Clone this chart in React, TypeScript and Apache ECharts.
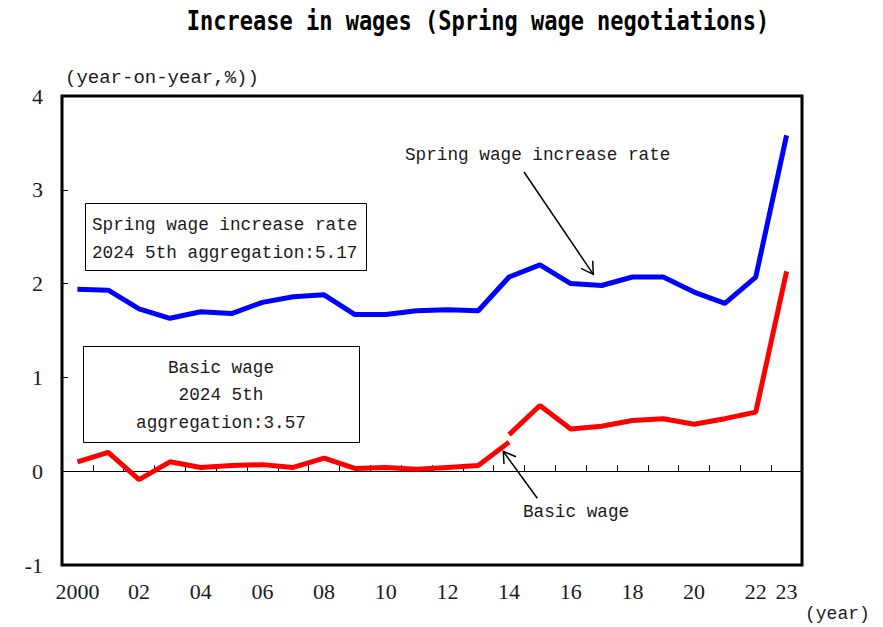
import React, { useEffect, useRef } from "react";
import * as echarts from "echarts";

const years = [
  "2000", "2001", "2002", "2003", "2004", "2005", "2006", "2007", "2008", "2009", "2010", "2011",
  "2012", "2013", "2014", "2015", "2016", "2017", "2018", "2019", "2020", "2021", "2022", "2023",
];
const xTickLabels = [
  "2000", "", "02", "", "04", "", "06", "", "08", "", "10", "",
  "12", "", "14", "", "16", "", "18", "", "20", "", "22", "23",
];
const springWageRate = [
  1.94, 1.93, 1.73, 1.63, 1.7, 1.68, 1.8, 1.86, 1.88, 1.67, 1.67, 1.71,
  1.72, 1.71, 2.07, 2.2, 2.0, 1.98, 2.07, 2.07, 1.91, 1.79, 2.07, 3.58,
];
const basicWageOld = [
  0.1, 0.2, -0.09, 0.1, 0.04, 0.06, 0.07, 0.04, 0.14, 0.03, 0.04, 0.02,
  0.04, 0.06, 0.31, null, null, null, null, null, null, null, null, null,
];
const basicWageNew = [
  null, null, null, null, null, null, null, null, null, null, null, null,
  null, null, 0.39, 0.7, 0.45, 0.48, 0.54, 0.56, 0.5, 0.56, 0.63, 2.13,
];
const yMin = -1;
const yMax = 4;

const SERIF = '"Liberation Serif", serif';
const MONO = '"Liberation Mono", monospace';
const TXT = "#1a1a1a";

export default function App() {
  const ref = useRef<HTMLDivElement>(null);
  useEffect(() => {
    if (!ref.current) return;
    const chart = echarts.init(ref.current, null, { renderer: "svg" });
    const textEl = (text: string, x: number, y: number, size: number, align = "left", extra: any = {}) => ({
      type: "text",
      x,
      y,
      z: 100,
      style: {
        text,
        fill: TXT,
        font: `${size}px ${MONO}`,
        textAlign: align,
        textVerticalAlign: "middle",
      },
      ...extra,
    });
    chart.setOption({
      animation: false,
      backgroundColor: "#fff",
      grid: {
        show: true,
        left: 62,
        right: 81,
        top: 96,
        bottom: 62,
        borderColor: "#000",
        borderWidth: 3,
        containLabel: false,
      },
      xAxis: [
        {
          type: "category",
          data: years,
          position: "bottom",
          boundaryGap: true,
          axisLine: { show: false, onZero: false },
          axisTick: { show: false },
          axisLabel: {
            interval: 0,
            margin: 15,
            color: TXT,
            fontFamily: SERIF,
            fontSize: 22,
            formatter: (_v: string, i: number) => xTickLabels[i],
          },
          splitLine: { show: false },
        },
        {
          type: "category",
          data: years,
          position: "top",
          boundaryGap: true,
          axisLine: { show: true, onZero: true, lineStyle: { color: "#000", width: 1 } },
          axisTick: { show: true, inside: false, length: 6, interval: 0, lineStyle: { color: "#000", width: 1 } },
          axisLabel: { show: false },
          splitLine: { show: false },
        },
      ],
      yAxis: {
        type: "value",
        min: yMin,
        max: yMax,
        interval: 1,
        axisLine: { show: false },
        axisTick: { show: true, inside: true, length: 6, lineStyle: { color: "#000", width: 1 } },
        axisLabel: { color: TXT, fontFamily: SERIF, fontSize: 22, margin: 19 },
        splitLine: { show: false },
      },
      series: [
        {
          name: "Spring wage increase rate",
          type: "line",
          data: springWageRate,
          symbol: "none",
          lineStyle: { color: "#0000ff", width: 5 },
          itemStyle: { color: "#0000ff" },
        },
        {
          name: "Basic wage (old)",
          type: "line",
          data: basicWageOld,
          symbol: "none",
          lineStyle: { color: "#ff0000", width: 5 },
          itemStyle: { color: "#ff0000" },
        },
        {
          name: "Basic wage",
          type: "line",
          data: basicWageNew,
          symbol: "none",
          lineStyle: { color: "#ff0000", width: 5 },
          itemStyle: { color: "#ff0000" },
        },
      ],
      graphic: [
        {
          type: "text",
          x: 478,
          y: 21,
          scaleY: 1.2,
          style: {
            text: "Increase in wages (Spring wage negotiations)",
            fill: "#000",
            font: 'bold 22px "DejaVu Sans Mono", monospace',
            textAlign: "center",
            textVerticalAlign: "middle",
          },
        },
        textEl("(year-on-year,%))", 65, 78, 19),
        textEl("(year)", 805, 614, 18),
        {
          type: "rect",
          z: 90,
          shape: { x: 85.5, y: 203.5, width: 281, height: 67 },
          style: { fill: "#fff", stroke: "#000", lineWidth: 1 },
        },
        textEl("Spring wage increase rate", 92, 225, 17.7),
        textEl("2024 5th aggregation:5.17", 92, 253, 17.7),
        {
          type: "rect",
          z: 90,
          shape: { x: 83.5, y: 346.5, width: 276, height: 96 },
          style: { fill: "#fff", stroke: "#000", lineWidth: 1 },
        },
        textEl("Basic wage", 221, 368, 17.7, "center"),
        textEl("2024 5th", 221, 395, 17.7, "center"),
        textEl("aggregation:3.57", 221, 423, 17.7, "center"),
        textEl("Spring wage increase rate", 405, 155, 17.7),
        {
          type: "line",
          z: 100,
          shape: { x1: 524, y1: 172, x2: 593.3, y2: 274.3 },
          style: { stroke: "#000", lineWidth: 1.5 },
        },
        {
          type: "polyline",
          z: 100,
          shape: { points: [[581, 268.3], [593.3, 274.3], [592.7, 260.7]] },
          style: { stroke: "#000", lineWidth: 1.5, fill: null },
        },
        textEl("Basic wage", 523, 512, 17.7),
        {
          type: "line",
          z: 100,
          shape: { x1: 537.3, y1: 498.3, x2: 503.3, y2: 451.5 },
          style: { stroke: "#000", lineWidth: 1.5 },
        },
        {
          type: "polyline",
          z: 100,
          shape: { points: [[516, 456.7], [503.3, 451.5], [504, 464]] },
          style: { stroke: "#000", lineWidth: 1.5, fill: null },
        },
      ],
    });
    return () => chart.dispose();
  }, []);
  return (
    <div
      ref={ref}
      style={{ position: "fixed", left: 0, top: 0, width: 883, height: 627, background: "#fff" }}
    />
  );
}
